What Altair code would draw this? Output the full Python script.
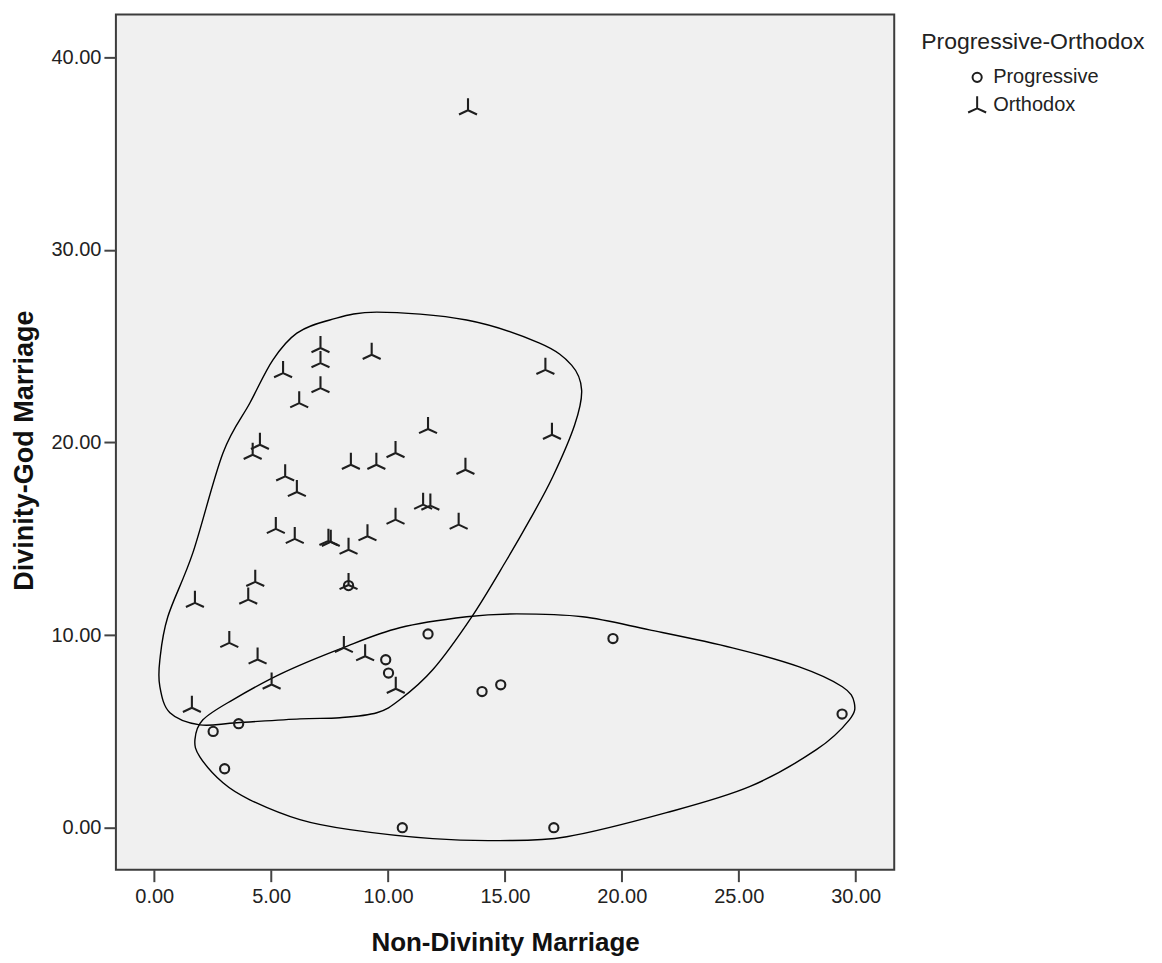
import altair as alt
import pandas as pd

# Orthodox points (Non-Divinity, Divinity-God)
ortho_x = [13.42, 7.11, 7.11, 9.30, 5.51, 7.11, 6.20, 16.73, 17.01, 11.71,
           4.52, 4.21, 8.41, 9.50, 10.32, 13.31, 5.60, 6.10, 11.50, 11.81,
           10.32, 13.02, 5.20, 6.01, 7.45, 7.55, 8.31, 9.12, 8.31, 4.32,
           4.02, 1.74, 3.21, 4.42, 8.11, 9.02, 5.02, 10.33, 1.61]
ortho_y = [37.41, 25.06, 24.28, 24.71, 23.76, 22.98, 22.20, 23.93, 20.56, 20.86,
           20.04, 19.52, 19.00, 19.00, 19.61, 18.74, 18.40, 17.59, 16.93, 16.88,
           16.15, 15.89, 15.67, 15.15, 15.05, 15.00, 14.59, 15.29, 12.76, 12.92,
           12.00, 11.83, 9.75, 8.89, 9.49, 9.06, 7.59, 7.37, 6.38]

# Progressive points
prog_x = [11.71, 9.90, 10.02, 3.61, 2.52, 3.01, 10.61, 19.62, 14.02, 14.82, 29.42, 17.09, 8.31]
prog_y = [10.06, 8.72, 8.03, 5.40, 5.00, 3.06, 0.00, 9.82, 7.07, 7.42, 5.90, 0.00, 12.57]

# Hand-drawn outline around the Orthodox group (data units)
curve1_x = [7.51, 9.52, 13.36, 16.48, 17.85, 18.28, 17.98, 17.04, 16.06, 15.07,
            13.58, 11.91, 10.50, 9.52, 7.94, 6.23, 3.53, 1.95, 0.67, 0.24,
            0.24, 0.58, 1.65, 2.94, 4.09, 5.07, 6.10]
curve1_y = [26.36, 26.77, 26.36, 25.16, 24.02, 22.72, 20.91, 18.21, 15.98, 13.90,
            10.95, 8.20, 6.64, 5.97, 5.71, 5.65, 5.45, 5.34, 5.97, 7.32,
            8.72, 10.95, 14.27, 19.46, 22.05, 24.28, 25.68]

# Hand-drawn outline around the Progressive group (data units)
curve2_x = [2.08, 3.36, 5.50, 8.06, 10.50, 13.36, 15.50, 18.32, 21.18, 24.73,
            27.59, 29.43, 29.94, 29.73, 28.32, 25.46, 21.91, 17.64, 14.77, 11.91,
            8.37, 6.23, 4.09, 2.94, 1.95, 1.74]
curve2_y = [5.60, 6.64, 8.04, 9.34, 10.38, 10.95, 11.10, 10.95, 10.27, 9.34,
            8.35, 7.32, 6.49, 5.60, 4.05, 2.13, 0.78, -0.47, -0.67, -0.57,
            -0.10, 0.42, 1.45, 2.33, 3.68, 4.57]

groups = ["Progressive", "Orthodox"]
x_ticks = [0, 5, 10, 15, 20, 25, 30]
y_ticks = [0, 10, 20, 30, 40]

pts = pd.DataFrame({
    "x": prog_x + ortho_x,
    "y": prog_y + ortho_y,
    "g": ["Progressive"] * len(prog_x) + ["Orthodox"] * len(ortho_x),
})

curves = pd.DataFrame({
    "x": curve1_x + curve2_x,
    "y": curve1_y + curve2_y,
    "c": ["A"] * len(curve1_x) + ["B"] * len(curve2_x),
    "i": list(range(len(curve1_x))) + list(range(len(curve2_x))),
})

CIRCLE = "M-0.46,0A0.46,0.46,0,1,0,0.46,0A0.46,0.46,0,1,0,-0.46,0Z"
TRI = "M0,-0.9L0,0.3M0,0.3L-0.9,0.72M0,0.3L0.9,0.72"

FONT = "Liberation Sans"

xscale = alt.Scale(domain=[-1.64, 31.65], nice=False, zero=False)
yscale = alt.Scale(domain=[-2.18, 42.23], nice=False, zero=False)

xaxis = alt.Axis(values=x_ticks, format=".2f", grid=False, domain=False,
                 tickSize=12, tickWidth=2, tickColor="#444",
                 labelFont=FONT, labelFontSize=20, labelColor="#222", labelPadding=5,
                 title="Non-Divinity Marriage", titleFont=FONT, titleFontSize=26,
                 titleFontWeight="bold", titleColor="#111", titleY=60, titleBaseline="top")
yaxis = alt.Axis(values=y_ticks, format=".2f", grid=False, domain=False,
                 tickSize=12, tickWidth=2, tickColor="#444",
                 labelFont=FONT, labelFontSize=20, labelColor="#222", labelPadding=3,
                 title="Divinity-God Marriage", titleFont=FONT, titleFontSize=27,
                 titleFontWeight="bold", titleColor="#111", titleX=-104, titleY=436,
                 titleAngle=-90, titleBaseline="top", titleAlign="center")

lines = alt.Chart(curves).mark_line(interpolate="cardinal-closed", color="black",
                                    strokeWidth=1.4).encode(
    x=alt.X("x:Q", scale=xscale, axis=xaxis),
    y=alt.Y("y:Q", scale=yscale, axis=yaxis),
    detail="c:N",
    order="i:Q",
)

points = alt.Chart(pts).mark_point(filled=False, size=400, strokeWidth=2.1,
                                   color="#1e1e1e", opacity=1).encode(
    x=alt.X("x:Q", scale=xscale, axis=xaxis),
    y=alt.Y("y:Q", scale=yscale, axis=yaxis),
    shape=alt.Shape("g:N", scale=alt.Scale(domain=groups, range=[CIRCLE, TRI]),
                    legend=alt.Legend(title="Progressive-Orthodox", orient="none",
                                      legendX=806, legendY=17,
                                      titleFont=FONT, titleFontSize=23, titleLimit=0,
                                      titleFontWeight="normal", titleColor="#222",
                                      titlePadding=12,
                                      labelFont=FONT, labelFontSize=20, labelColor="#222",
                                      labelOffset=5, symbolOffset=45, rowPadding=5,
                                      symbolSize=400, symbolStrokeWidth=2,
                                      symbolStrokeColor="#1e1e1e",
                                      symbolFillColor="transparent")),
)

chart = alt.layer(lines, points).properties(
    width=779, height=856,
    autosize=alt.AutoSizeParams(type="none"),
    padding={"left": 108, "top": 6, "right": 260, "bottom": 90},
).configure(background="white").configure_view(
    fill="#f0f0f0", stroke="#3c3c3c", strokeWidth=2
)

chart.save("out.html", embed_options={"renderer": "svg", "actions": False})
